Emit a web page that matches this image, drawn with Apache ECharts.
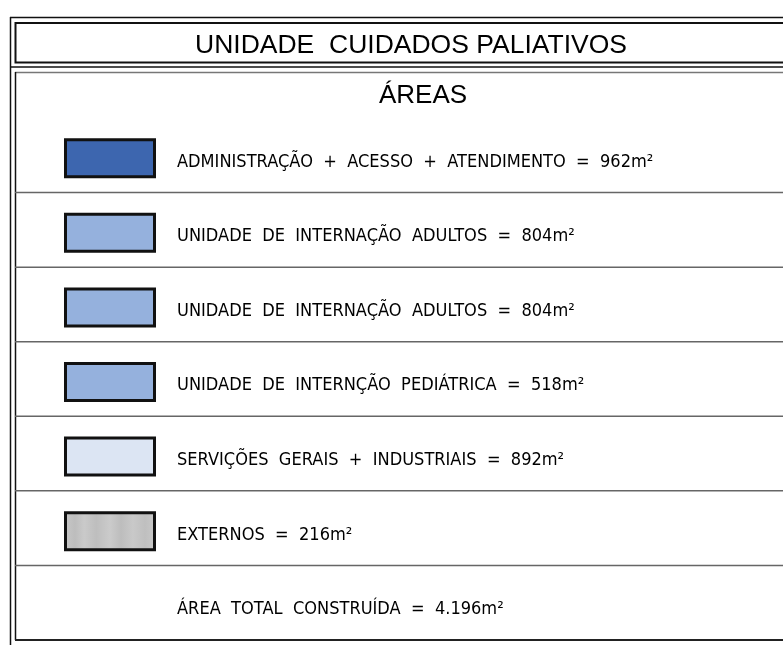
<!DOCTYPE html>
<html>
<head>
<meta charset="utf-8">
<script src="https://cdn.jsdelivr.net/npm/echarts@6/dist/echarts.min.js"></script>
<style>html,body{margin:0;padding:0;background:#fff}#c{width:783px;height:645px}</style>
</head>
<body>
<div id="c"></div>
<script>
const title = "UNIDADE  CUIDADOS PALIATIVOS";
const subtitle = "ÁREAS";
const names = [
  "ADMINISTRAÇÃO  +  ACESSO  +  ATENDIMENTO",
  "UNIDADE  DE  INTERNAÇÃO  ADULTOS",
  "UNIDADE  DE  INTERNAÇÃO  ADULTOS",
  "UNIDADE  DE  INTERNÇÃO  PEDIÁTRICA",
  "SERVIÇÕES  GERAIS  +  INDUSTRIAIS",
  "EXTERNOS"
];
const areas = [962, 804, 804, 518, 892, 216];
const totalLabel = "ÁREA  TOTAL  CONSTRUÍDA";
const totalValue = "4.196";
const swatchColors = ["#3D66AF", "#95B1DD", "#95B1DD", "#95B1DD", "#DCE5F3", "gray"];

const rowCats = names.map((n, i) => "r" + i).concat(["total"]);
const rowData = rowCats.map((c, i) => [0, i]);

const chart = echarts.init(document.getElementById('c'));
const FONT = '"DejaVu Sans", sans-serif';

function grayFill() {
  return new echarts.graphic.LinearGradient(0, 0, 1, 0, [
    {offset: 0, color: '#c8c8c8'}, {offset: 0.12, color: '#bdbdbd'},
    {offset: 0.22, color: '#cacaca'}, {offset: 0.35, color: '#bebebe'},
    {offset: 0.5, color: '#cbcbcb'}, {offset: 0.62, color: '#bdbdbd'},
    {offset: 0.75, color: '#c9c9c9'}, {offset: 0.88, color: '#bfbfbf'},
    {offset: 1, color: '#c9c9c9'}
  ]);
}

function renderItem(params, api) {
  const idx = api.value(1);
  const p = api.coord([0, idx]);
  const h = api.size([0, 1])[1];
  const x0 = p[0];
  const cy = p[1];
  const children = [];
  const last = idx === rowCats.length - 1;
  children.push({
    type: 'line',
    shape: {x1: x0, y1: cy + h / 2, x2: x0 + 900, y2: cy + h / 2},
    style: {stroke: last ? '#222' : '#666', lineWidth: last ? 2 : 1.5}
  });
  let label;
  if (idx < names.length) {
    const col = swatchColors[idx];
    children.push({
      type: 'rect',
      shape: {x: x0 + 50.5, y: cy - 15.5, width: 89, height: 37},
      style: {fill: col === 'gray' ? grayFill() : col, stroke: '#111', lineWidth: 3}
    });
    label = names[idx] + "  =  " + areas[idx] + "m²";
  } else {
    label = totalLabel + "  =  " + totalValue + "m²";
  }
  children.push({
    type: 'text',
    x: x0 + 162, y: cy + 7,
    scaleX: 0.955,
    style: {text: label, font: 'normal 17px ' + FONT, fill: '#000', verticalAlign: 'middle', align: 'left'}
  });
  return {type: 'group', children};
}

chart.setOption({
  animation: false,
  grid: {left: 15, right: 0, top: 118, bottom: 5},
  xAxis: {type: 'value', min: 0, max: 100, show: false},
  yAxis: {type: 'category', data: rowCats, inverse: true, show: false},
  series: [{type: 'custom', renderItem, data: rowData, clip: false, encode: {x: 0, y: 1}}],
  graphic: [
    {type: 'line', shape: {x1: 10.5, y1: 17, x2: 10.5, y2: 645}, style: {stroke: '#111', lineWidth: 1.5}},
    {type: 'line', shape: {x1: 10, y1: 17.5, x2: 800, y2: 17.5}, style: {stroke: '#111', lineWidth: 1.5}},
    {type: 'rect', shape: {x: 15.5, y: 23, width: 800, height: 39.5}, style: {fill: 'none', stroke: '#111', lineWidth: 2}},
    {type: 'line', shape: {x1: 10, y1: 67, x2: 800, y2: 67}, style: {stroke: '#111', lineWidth: 1.5}},
    {type: 'line', shape: {x1: 15, y1: 72.5, x2: 800, y2: 72.5}, style: {stroke: '#777', lineWidth: 1.5}},
    {type: 'line', shape: {x1: 15.5, y1: 72, x2: 15.5, y2: 640}, style: {stroke: '#111', lineWidth: 1.5}},
    {type: 'text', x: 411, y: 45.5, style: {text: title, font: 'normal 26.5px "Liberation Sans", Arial, sans-serif', fill: '#000', align: 'center', verticalAlign: 'middle'}},
    {type: 'text', x: 423, y: 96, style: {text: subtitle, font: 'normal 26px "Liberation Sans", Arial, sans-serif', fill: '#000', align: 'center', verticalAlign: 'middle'}}
  ]
});
</script>
</body>
</html>
